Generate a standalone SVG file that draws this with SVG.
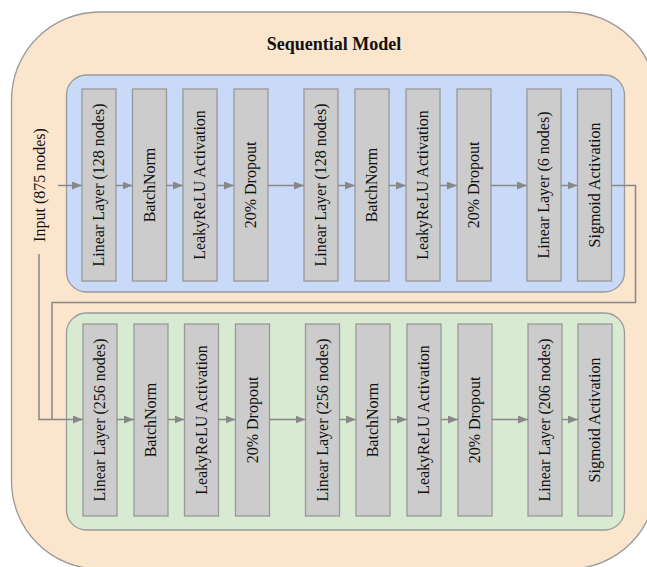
<svg xmlns="http://www.w3.org/2000/svg" width="647" height="567" viewBox="0 0 647 567">
<defs>
<marker id="ah" markerUnits="userSpaceOnUse" markerWidth="10" markerHeight="8" refX="10" refY="4" orient="auto">
<path d="M0,0 L10,4 L0,8 z" fill="#888"/>
</marker>
<style>
.box{fill:#cccccc;stroke:#999;stroke-width:1.3}
.lbl{font-family:"Liberation Serif","Times New Roman",serif;font-size:16px;fill:#111;text-anchor:middle}
.ln{fill:none;stroke:#888;stroke-width:1.5}
.ar{fill:none;stroke:#888;stroke-width:1.5;marker-end:url(#ah)}
</style>
</defs>
<g id="outer">
<rect x="11.5" y="12" width="645" height="557" rx="88" ry="88" fill="#fce5cd" stroke="#999" stroke-width="1.3"/>
<text x="334" y="50" font-family="'Liberation Serif','Times New Roman',serif" font-size="18" font-weight="bold" text-anchor="middle" fill="#111">Sequential Model</text>
</g>
<g id="container-blue">
<rect x="66.5" y="75" width="558" height="217" rx="20" ry="20" fill="#c9daf8" stroke="#999" stroke-width="1.3"/>
</g>
<g id="container-green">
<rect x="66.5" y="313" width="558" height="217" rx="20" ry="20" fill="#d9ead3" stroke="#999" stroke-width="1.3"/>
</g>
<g id="input">
<text class="lbl" transform="translate(40,185) rotate(-90)" dy="0.33em">Input (875 nodes)</text>
</g>
<g id="b1"><rect class="box" x="82" y="89" width="34" height="192"/><text class="lbl" transform="translate(99,185) rotate(-90)" dy="0.33em">Linear Layer (128 nodes)</text></g>
<g id="b2"><rect class="box" x="132.5" y="89" width="34" height="192"/><text class="lbl" transform="translate(149.5,185) rotate(-90)" dy="0.33em">BatchNorm</text></g>
<g id="b3"><rect class="box" x="183" y="89" width="34" height="192"/><text class="lbl" transform="translate(200,185) rotate(-90)" dy="0.33em">LeakyReLU Activation</text></g>
<g id="b4"><rect class="box" x="234" y="89" width="34" height="192"/><text class="lbl" transform="translate(251,185) rotate(-90)" dy="0.33em">20% Dropout</text></g>
<g id="b5"><rect class="box" x="304" y="89" width="34" height="192"/><text class="lbl" transform="translate(321,185) rotate(-90)" dy="0.33em">Linear Layer (128 nodes)</text></g>
<g id="b6"><rect class="box" x="355" y="89" width="34" height="192"/><text class="lbl" transform="translate(372,185) rotate(-90)" dy="0.33em">BatchNorm</text></g>
<g id="b7"><rect class="box" x="406" y="89" width="34" height="192"/><text class="lbl" transform="translate(423,185) rotate(-90)" dy="0.33em">LeakyReLU Activation</text></g>
<g id="b8"><rect class="box" x="457" y="89" width="34" height="192"/><text class="lbl" transform="translate(474,185) rotate(-90)" dy="0.33em">20% Dropout</text></g>
<g id="b9"><rect class="box" x="527" y="89" width="34" height="192"/><text class="lbl" transform="translate(544,185) rotate(-90)" dy="0.33em">Linear Layer (6 nodes)</text></g>
<g id="b10"><rect class="box" x="577.5" y="89" width="34" height="192"/><text class="lbl" transform="translate(594.5,185) rotate(-90)" dy="0.33em">Sigmoid Activation</text></g>
<g id="g1"><rect class="box" x="83" y="324" width="34" height="192"/><text class="lbl" transform="translate(100,420) rotate(-90)" dy="0.33em">Linear Layer (256 nodes)</text></g>
<g id="g2"><rect class="box" x="134" y="324" width="34" height="192"/><text class="lbl" transform="translate(151,420) rotate(-90)" dy="0.33em">BatchNorm</text></g>
<g id="g3"><rect class="box" x="184.5" y="324" width="34" height="192"/><text class="lbl" transform="translate(201.5,420) rotate(-90)" dy="0.33em">LeakyReLU Activation</text></g>
<g id="g4"><rect class="box" x="235.5" y="324" width="34" height="192"/><text class="lbl" transform="translate(252.5,420) rotate(-90)" dy="0.33em">20% Dropout</text></g>
<g id="g5"><rect class="box" x="305.5" y="324" width="34" height="192"/><text class="lbl" transform="translate(322.5,420) rotate(-90)" dy="0.33em">Linear Layer (256 nodes)</text></g>
<g id="g6"><rect class="box" x="356" y="324" width="34" height="192"/><text class="lbl" transform="translate(373,420) rotate(-90)" dy="0.33em">BatchNorm</text></g>
<g id="g7"><rect class="box" x="407" y="324" width="34" height="192"/><text class="lbl" transform="translate(424,420) rotate(-90)" dy="0.33em">LeakyReLU Activation</text></g>
<g id="g8"><rect class="box" x="458" y="324" width="34" height="192"/><text class="lbl" transform="translate(475,420) rotate(-90)" dy="0.33em">20% Dropout</text></g>
<g id="g9"><rect class="box" x="528" y="324" width="34" height="192"/><text class="lbl" transform="translate(545,420) rotate(-90)" dy="0.33em">Linear Layer (206 nodes)</text></g>
<g id="g10"><rect class="box" x="578" y="324" width="34" height="192"/><text class="lbl" transform="translate(595,420) rotate(-90)" dy="0.33em">Sigmoid Activation</text></g>
<g id="connectors">
<path class="ar" d="M58,185.5 H82"/>
<path class="ar" d="M116,185.5 H132.5"/>
<path class="ar" d="M166.5,185.5 H183"/>
<path class="ar" d="M217,185.5 H234"/>
<path class="ar" d="M268,185.5 H304"/>
<path class="ar" d="M338,185.5 H355"/>
<path class="ar" d="M389,185.5 H406"/>
<path class="ar" d="M440,185.5 H457"/>
<path class="ar" d="M491,185.5 H527"/>
<path class="ar" d="M561,185.5 H577.5"/>
<path class="ln" d="M611.5,185.5 H635.5 V302.5 H52 V419.5"/>
<path class="ar" d="M39,254 V419.5 H83"/>
<path class="ar" d="M117,419.5 H134"/>
<path class="ar" d="M168,419.5 H184.5"/>
<path class="ar" d="M218.5,419.5 H235.5"/>
<path class="ar" d="M269.5,419.5 H305.5"/>
<path class="ar" d="M339.5,419.5 H356"/>
<path class="ar" d="M390,419.5 H407"/>
<path class="ar" d="M441,419.5 H458"/>
<path class="ar" d="M492,419.5 H528"/>
<path class="ar" d="M562,419.5 H578"/>
</g>
</svg>
